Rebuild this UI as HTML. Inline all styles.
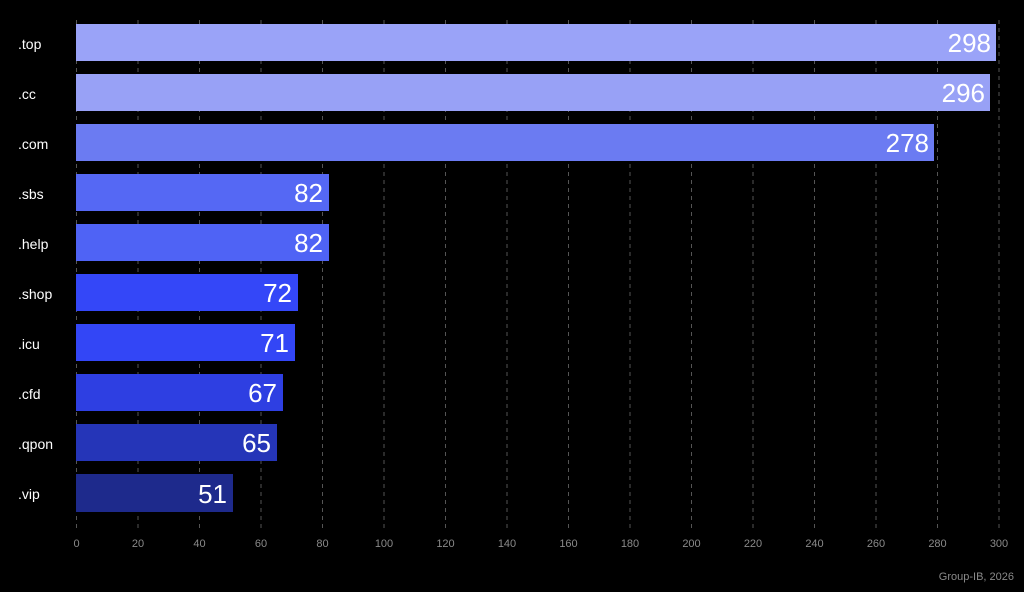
<!DOCTYPE html>
<html><head><meta charset="utf-8"><style>
html,body{margin:0;padding:0;background:#000;}
svg{display:block;font-family:"Liberation Sans",sans-serif;}
</style></head><body>
<svg width="1024" height="592" viewBox="0 0 1024 592" xmlns="http://www.w3.org/2000/svg">
<rect width="1024" height="592" fill="#000"/>
<g stroke="#555" stroke-width="1" stroke-dasharray="4,4">
<line x1="76.5" y1="20" x2="76.5" y2="530"/>
<line x1="138" y1="20" x2="138" y2="530"/>
<line x1="199.5" y1="20" x2="199.5" y2="530"/>
<line x1="261" y1="20" x2="261" y2="530"/>
<line x1="322.5" y1="20" x2="322.5" y2="530"/>
<line x1="384" y1="20" x2="384" y2="530"/>
<line x1="445.5" y1="20" x2="445.5" y2="530"/>
<line x1="507" y1="20" x2="507" y2="530"/>
<line x1="568.5" y1="20" x2="568.5" y2="530"/>
<line x1="630" y1="20" x2="630" y2="530"/>
<line x1="691.5" y1="20" x2="691.5" y2="530"/>
<line x1="753" y1="20" x2="753" y2="530"/>
<line x1="814.5" y1="20" x2="814.5" y2="530"/>
<line x1="876" y1="20" x2="876" y2="530"/>
<line x1="937.5" y1="20" x2="937.5" y2="530"/>
<line x1="999" y1="20" x2="999" y2="530"/>
</g>
<g>
<rect x="76" y="24" width="920" height="37" fill="#9aa3f8"/>
<rect x="76" y="74" width="914" height="37" fill="#98a1f6"/>
<rect x="76" y="124" width="858" height="37" fill="#6b7bf2"/>
<rect x="76" y="174" width="253" height="37" fill="#5568f4"/>
<rect x="76" y="224" width="253" height="37" fill="#4f63f5"/>
<rect x="76" y="274" width="222" height="37" fill="#3447f8"/>
<rect x="76" y="324" width="219" height="37" fill="#3346f6"/>
<rect x="76" y="374" width="207" height="37" fill="#2e3fe2"/>
<rect x="76" y="424" width="201" height="37" fill="#2535b8"/>
<rect x="76" y="474" width="157" height="38" fill="#1e2a8c"/>
</g>
<g fill="#fff" font-size="26" text-anchor="end">
<text x="991" y="52">298</text>
<text x="985" y="102">296</text>
<text x="929" y="152">278</text>
<text x="323" y="202">82</text>
<text x="323" y="252">82</text>
<text x="292" y="302">72</text>
<text x="289" y="352">71</text>
<text x="277" y="402">67</text>
<text x="271" y="452">65</text>
<text x="227" y="503">51</text>
</g>
<g fill="#fff" font-size="14">
<text x="18" y="49">.top</text>
<text x="18" y="99">.cc</text>
<text x="18" y="149">.com</text>
<text x="18" y="199">.sbs</text>
<text x="18" y="249">.help</text>
<text x="18" y="299">.shop</text>
<text x="18" y="349">.icu</text>
<text x="18" y="399">.cfd</text>
<text x="18" y="449">.qpon</text>
<text x="18" y="499">.vip</text>
</g>
<g fill="#8a8a8a" font-size="11" text-anchor="middle">
<text x="76.5" y="547">0</text><text x="138" y="547">20</text><text x="199.5" y="547">40</text>
<text x="261" y="547">60</text><text x="322.5" y="547">80</text><text x="384" y="547">100</text>
<text x="445.5" y="547">120</text><text x="507" y="547">140</text><text x="568.5" y="547">160</text>
<text x="630" y="547">180</text><text x="691.5" y="547">200</text><text x="753" y="547">220</text>
<text x="814.5" y="547">240</text><text x="876" y="547">260</text><text x="937.5" y="547">280</text>
<text x="999" y="547">300</text>
</g>
<text x="1014" y="580" fill="#8a8a8a" font-size="11" text-anchor="end">Group-IB, 2026</text>
</svg>
</body></html>
